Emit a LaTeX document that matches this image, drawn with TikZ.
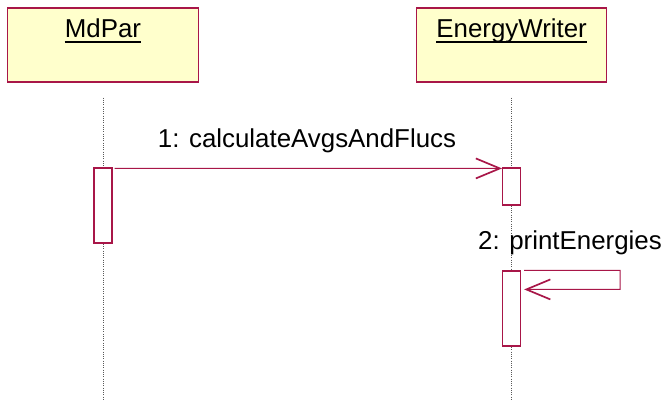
\documentclass[tikz,border=0pt]{standalone}
\usepackage{fontspec}
\setmainfont{Liberation Sans}
\usepackage{xcolor}
\usetikzlibrary{arrows.meta,positioning,calc}
\definecolor{umlred}{RGB}{168,22,72}
\definecolor{umlyellow}{RGB}{255,255,204}
\newcommand{\umlfont}{\fontsize{18.4}{22}\selectfont}

\begin{document}
\begin{tikzpicture}[font=\umlfont,
    objbox/.style={draw=umlred, fill=umlyellow, line width=0.8pt,
                   minimum width=4.76cm, minimum height=1.85cm},
    actbar/.style={draw=umlred, fill=white, line width=0.8pt, minimum width=0.45cm},
    lifeline/.style={draw=black!65, densely dotted, line width=0.6pt},
    msg/.style={draw=umlred, line width=0.8pt,
                -{Straight Barb[length=0.6cm,width=0.5cm,line width=1.2pt]}}]
  \useasboundingbox (0,0) rectangle (16.625,10.05);
  \coordinate (bottom) at (0,0.05);
  \node[objbox] (mdpar) at (2.575,8.925) {};
  \node[objbox] (writer) at (12.79,8.925) {};
  \node[anchor=base, inner sep=0pt] (mdparname) at (2.575,9.1) {MdPar};
  \node[anchor=base, inner sep=0pt] (writername) at (12.79,9.1) {EnergyWriter};
  \foreach \n in {mdparname,writername}
    \draw[line width=1.5pt] ([yshift=-0.1cm]\n.base west) -- ([yshift=-0.1cm]\n.base east);
  \draw[lifeline] ([yshift=-0.375cm]mdpar.south) -- (mdpar.south |- bottom);
  \draw[lifeline] ([yshift=-0.375cm]writer.south) -- (writer.south |- bottom);
  \node[actbar, minimum height=1.875cm] (mdparact) at (2.575,4.9125) {};
  \node[actbar, minimum height=0.925cm] (writeract1) at (12.79,5.3875) {};
  \node[actbar, minimum height=1.875cm] (writeract2) at (12.79,2.3375) {};
  \draw[msg] ([xshift=0.05cm,yshift=-0.025cm]mdparact.north east)
        -- ([yshift=-0.025cm]writeract1.north west);
  \node[anchor=base] (msg1) at (7.675,6.35) {1: calculateAvgsAndFlucs};
  \draw[msg] ([xshift=0.075cm]writeract2.north east) -- ++(2.4,0) -- ++(0,-0.475)
        -- ([xshift=0.075cm,yshift=-0.475cm]writeract2.north east);
  \node[anchor=base] (msg2) at (14.25,3.8) {2: printEnergies};
\end{tikzpicture}
\end{document}
